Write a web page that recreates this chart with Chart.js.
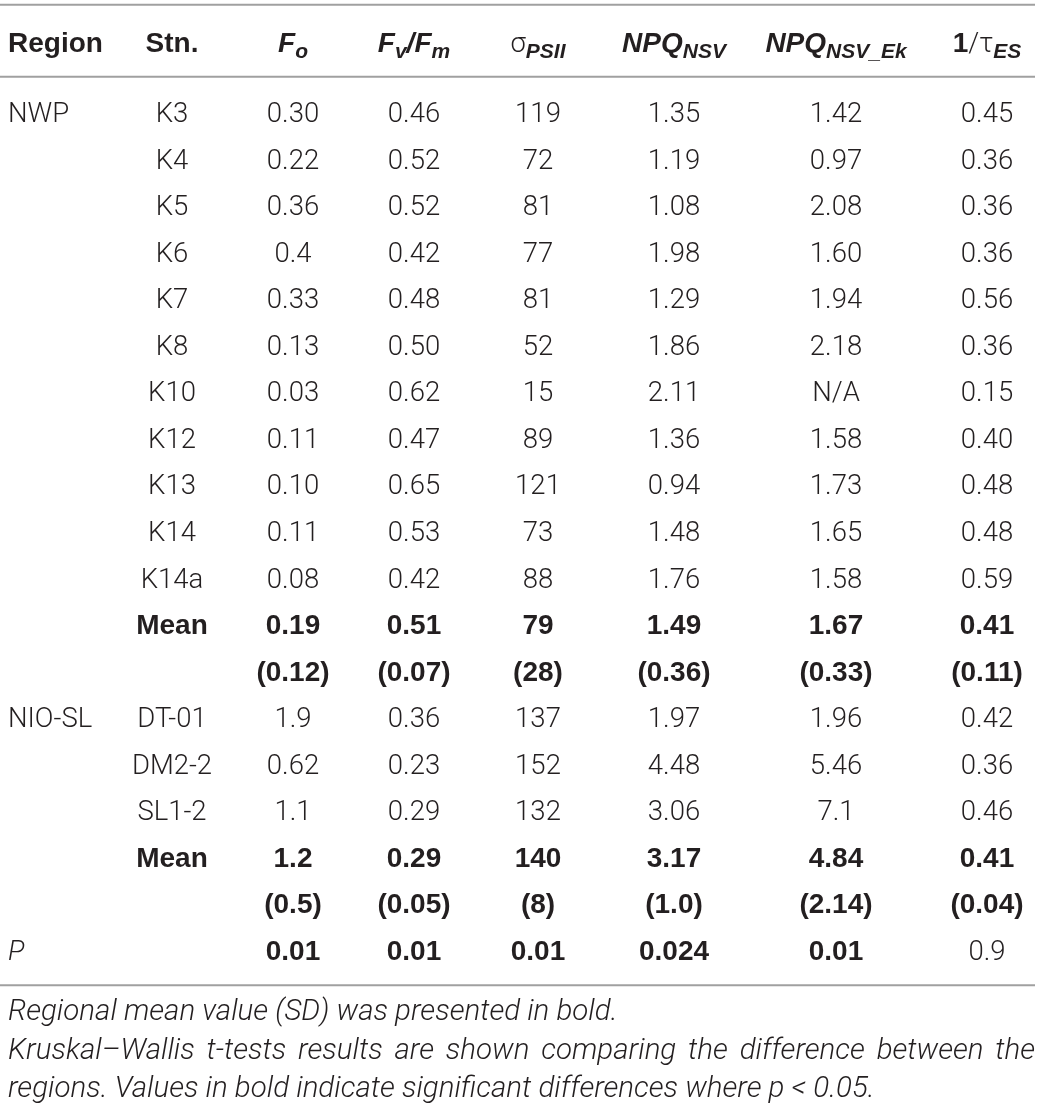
<!DOCTYPE html>
<html>
<head>
<meta charset="utf-8">
<script src="https://cdn.jsdelivr.net/npm/chart.js@4.4.1/dist/chart.umd.min.js"></script>
<style>
  html, body { margin: 0; padding: 0; background: #fff; }
  canvas { display: block; }
</style>
</head>
<body>
<canvas id="table1" width="1040" height="1107"></canvas>
<script>
// values as printed in the table (kept as text to keep the printed precision)
const nwpStations = ['K3', 'K4', 'K5', 'K6', 'K7', 'K8', 'K10', 'K12', 'K13', 'K14', 'K14a'];
const nioStations = ['DT-01', 'DM2-2', 'SL1-2'];

const fo    = ['0.30', '0.22', '0.36', '0.4', '0.33', '0.13', '0.03', '0.11', '0.10', '0.11', '0.08', '1.9', '0.62', '1.1'];
const fvfm  = ['0.46', '0.52', '0.52', '0.42', '0.48', '0.50', '0.62', '0.47', '0.65', '0.53', '0.42', '0.36', '0.23', '0.29'];
const sigma = ['119', '72', '81', '77', '81', '52', '15', '89', '121', '73', '88', '137', '152', '132'];
const npq   = ['1.35', '1.19', '1.08', '1.98', '1.29', '1.86', '2.11', '1.36', '0.94', '1.48', '1.76', '1.97', '4.48', '3.06'];
const npqEk = ['1.42', '0.97', '2.08', '1.60', '1.94', '2.18', 'N/A', '1.58', '1.73', '1.65', '1.58', '1.96', '5.46', '7.1'];
const tauES = ['0.45', '0.36', '0.36', '0.36', '0.56', '0.36', '0.15', '0.40', '0.48', '0.48', '0.59', '0.42', '0.36', '0.46'];

const nwpMean = ['0.19', '0.51', '79', '1.49', '1.67', '0.41'];
const nwpSd   = ['(0.12)', '(0.07)', '(28)', '(0.36)', '(0.33)', '(0.11)'];
const nioMean = ['1.2', '0.29', '140', '3.17', '4.84', '0.41'];
const nioSd   = ['(0.5)', '(0.05)', '(8)', '(1.0)', '(2.14)', '(0.04)'];
const pValues = ['0.01', '0.01', '0.01', '0.024', '0.01', '0.9'];
const pBold   = [true, true, true, true, true, false];

const footnotes = [
    'Regional mean value (SD) was presented in bold.',
    'Kruskal\u2013Wallis t-tests results are shown comparing the difference between the',
    'regions. Values in bold indicate significant differences where p < 0.05.'
];

// header cells, split in runs: bi = bold italic, b = bold, l = light; sub = subscript
const headers = [
    [{ t: 'F', f: 'bi' }, { t: 'o', f: 'bi', sub: true }],
    [{ t: 'F', f: 'bi' }, { t: 'v', f: 'bi', sub: true }, { t: '/', f: 'bi' }, { t: 'F', f: 'bi' }, { t: 'm', f: 'bi', sub: true }],
    [{ t: '\u03c3', f: 'l' }, { t: 'PSII', f: 'bi', sub: true }],
    [{ t: 'NPQ', f: 'bi' }, { t: 'NSV', f: 'bi', sub: true }],
    [{ t: 'NPQ', f: 'bi' }, { t: 'NSV_Ek', f: 'bi', sub: true }],
    [{ t: '1', f: 'b' }, { t: '/', f: 'l' }, { t: '\u03c4', f: 'l' }, { t: 'ES', f: 'bi', sub: true }]
];

// layout (not data): column centres on the x scale
const regionLeft = 8;
const ruleRight = 1035;
const stnCenter = 172;
const colCenters = [293, 414, 538, 674, 836, 987];

const ink = '#231f20';
const ruleColor = '#a0a0a0';
const fonts = {
    l: '300 27.5px Roboto',
    li: 'italic 300 27.5px Roboto',
    b: 'bold 28px "Liberation Sans"',
    bi: 'italic bold 28px "Liberation Sans"',
    lSub: '300 21px Roboto',
    bSub: 'bold 21px "Liberation Sans"',
    biSub: 'italic bold 21px "Liberation Sans"',
    note: 'italic 300 29.5px Roboto'
};

// build the table lines from the arrays
const columns = [fo, fvfm, sigma, npq, npqEk, tauES];
const rows = [];
nwpStations.forEach((s, i) => rows.push({ region: i === 0 ? 'NWP' : '', stn: s, cells: columns.map(c => c[i]) }));
rows.push({ stn: 'Mean', cells: nwpMean, bold: true });
rows.push({ cells: nwpSd, bold: true });
nioStations.forEach((s, i) => {
    const k = nwpStations.length + i;
    rows.push({ region: i === 0 ? 'NIO-SL' : '', stn: s, cells: columns.map(c => c[k]) });
});
rows.push({ stn: 'Mean', cells: nioMean, bold: true });
rows.push({ cells: nioSd, bold: true });
rows.push({ region: 'P', regionItalic: true, cells: pValues, boldFlags: pBold });

function drawRuns(ctx, runs, cx, baseline) {
    let total = 0;
    runs.forEach(r => {
        ctx.font = fonts[r.sub ? r.f + 'Sub' : r.f];
        r.w = ctx.measureText(r.t).width;
        total += r.w;
    });
    let x = cx - total / 2;
    ctx.textAlign = 'left';
    runs.forEach(r => {
        ctx.font = fonts[r.sub ? r.f + 'Sub' : r.f];
        ctx.fillText(r.t, x, baseline + (r.sub ? 6 : 0));
        x += r.w;
    });
}

const tablePlugin = {
    id: 'tablePlugin',
    afterDraw(chart) {
        const ctx = chart.ctx;
        const xs = chart.scales.x;
        const ys = chart.scales.y;
        const area = chart.chartArea;
        const left = xs.getPixelForValue(regionLeft);
        const right = xs.getPixelForValue(ruleRight);
        ctx.save();

        // rules
        ctx.strokeStyle = ruleColor;
        ctx.lineWidth = 2;
        [area.top - 84, area.top - 12, area.bottom + 12].forEach(y => {
            ctx.beginPath();
            ctx.moveTo(xs.getPixelForValue(0), y);
            ctx.lineTo(right, y);
            ctx.stroke();
        });

        ctx.fillStyle = ink;
        ctx.textBaseline = 'alphabetic';

        // header
        const headY = area.top - 37;
        ctx.font = fonts.b;
        ctx.textAlign = 'left';
        ctx.fillText('Region', left, headY);
        ctx.textAlign = 'center';
        ctx.fillText('Stn.', xs.getPixelForValue(stnCenter), headY);
        headers.forEach((h, c) => drawRuns(ctx, h, xs.getPixelForValue(colCenters[c]), headY));

        // body
        rows.forEach((r, i) => {
            const y = ys.getPixelForValue(i) + 10;
            if (r.region) {
                ctx.textAlign = 'left';
                ctx.font = r.regionItalic ? fonts.li : fonts.l;
                ctx.fillText(r.region, left, y);
            }
            if (r.stn) {
                ctx.textAlign = 'center';
                ctx.font = r.bold ? fonts.b : fonts.l;
                ctx.fillText(r.stn, xs.getPixelForValue(stnCenter), y);
            }
            r.cells.forEach((v, c) => {
                const bold = r.boldFlags ? r.boldFlags[c] : r.bold;
                ctx.textAlign = 'center';
                ctx.font = bold ? fonts.b : fonts.l;
                ctx.fillText(v, xs.getPixelForValue(colCenters[c]), y);
            });
        });

        // footnotes; the middle line is justified to the full width
        ctx.font = fonts.note;
        ctx.textAlign = 'left';
        const noteY = [area.bottom + 47, area.bottom + 86, area.bottom + 124];
        footnotes.forEach((line, k) => {
            if (k !== 1) {
                ctx.fillText(line, left, noteY[k]);
                return;
            }
            const words = line.split(' ');
            const widths = words.map(w => ctx.measureText(w).width);
            const gap = (right - left - widths.reduce((a, b) => a + b, 0)) / (words.length - 1);
            let x = left;
            words.forEach((w, j) => {
                ctx.fillText(w, x, noteY[k]);
                x += widths[j] + gap;
            });
        });
        ctx.restore();
    }
};

new Chart(document.getElementById('table1'), {
    type: 'scatter',
    data: { datasets: [] },
    options: {
        responsive: false,
        animation: false,
        devicePixelRatio: 1,
        layout: { padding: { top: 88.7, bottom: 133.7, left: 0, right: 0 } },
        plugins: { legend: { display: false }, tooltip: { enabled: false } },
        scales: {
            x: { type: 'linear', min: 0, max: 1040, display: false },
            y: { type: 'category', labels: rows.map((r, i) => String(i)), offset: true, display: false }
        }
    },
    plugins: [tablePlugin]
});
</script>
</body>
</html>
